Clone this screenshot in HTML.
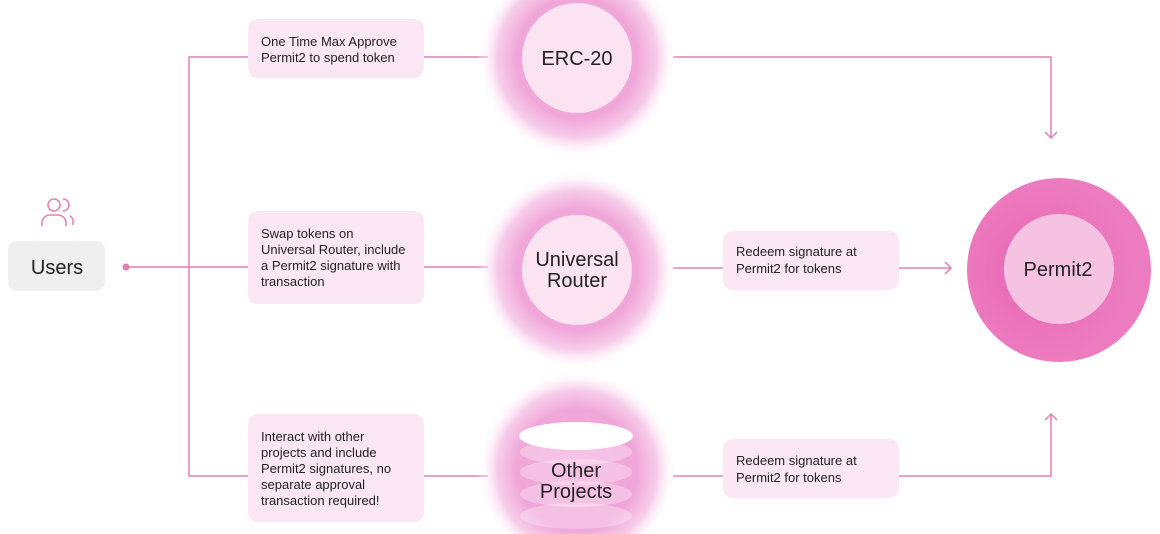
<!DOCTYPE html>
<html><head><meta charset="utf-8"><style>
html,body{margin:0;padding:0;background:#fff;width:1160px;height:534px;overflow:hidden;}
svg{display:block;font-family:"Liberation Sans",sans-serif;}
</style></head><body>
<svg width="1160" height="534" viewBox="0 0 1160 534" xmlns="http://www.w3.org/2000/svg">
<defs>
<radialGradient id="g1" gradientUnits="userSpaceOnUse" cx="577" cy="58" r="100">
<stop offset="0" stop-color="#f2a6d8"/>
<stop offset="0.6" stop-color="#f0a6d8"/>
<stop offset="0.8" stop-color="#f7cdea"/>
<stop offset="1" stop-color="#ffffff" stop-opacity="0"/>
</radialGradient>
<radialGradient id="g2" gradientUnits="userSpaceOnUse" cx="577" cy="270" r="100">
<stop offset="0" stop-color="#f2a6d8"/>
<stop offset="0.6" stop-color="#f0a6d8"/>
<stop offset="0.8" stop-color="#f7cdea"/>
<stop offset="1" stop-color="#ffffff" stop-opacity="0"/>
</radialGradient>
<radialGradient id="g3" gradientUnits="userSpaceOnUse" cx="577" cy="470" r="100">
<stop offset="0" stop-color="#f2a6d8"/>
<stop offset="0.6" stop-color="#f0a6d8"/>
<stop offset="0.8" stop-color="#f7cdea"/>
<stop offset="1" stop-color="#ffffff" stop-opacity="0"/>
</radialGradient>
<radialGradient id="p2" cx="0.4" cy="0.5">
<stop offset="0" stop-color="#e965b4"/>
<stop offset="1" stop-color="#ec7cbf"/>
</radialGradient>
</defs>
<g stroke="#e47fb6" stroke-width="1.5" fill="none">
<line x1="126" y1="267" x2="488" y2="267"/>
<polyline points="248,57 189,57 189,476 248,476"/>
<line x1="424" y1="57" x2="488" y2="57"/>
<line x1="424" y1="476" x2="488" y2="476"/>
<polyline points="673,57 1051,57 1051,138"/>
<polyline points="1045,132 1051,138 1057,132"/>
<line x1="673" y1="268" x2="723" y2="268"/>
<line x1="899" y1="268" x2="951" y2="268"/>
<polyline points="945,262 951,268 945,274"/>
<line x1="673" y1="476" x2="723" y2="476"/>
<polyline points="899,476 1051,476 1051,414"/>
<polyline points="1045,420 1051,414 1057,420"/>
</g>
<circle cx="126" cy="267" r="3.5" fill="#e47fb6"/>
<g stroke="#e47fb6" stroke-width="1.5" fill="none">
<circle cx="54" cy="205" r="6"/>
<path d="M42 226 v-3 a8 8 0 0 1 8 -8 h8 a8 8 0 0 1 8 8 v3"/>
<path d="M63 199 a6 6 0 0 1 0 12"/>
<path d="M70 216 a6 6 0 0 1 3 6 v3"/>
</g>
<rect x="8" y="241" width="97" height="50" rx="9" fill="#efefef"/>
<text x="57" y="274" font-size="20" text-anchor="middle" fill="#222">Users</text>
<g fill="#fbe7f3">
<rect x="248" y="19" width="176" height="59" rx="10"/>
<rect x="248" y="211" width="176" height="93" rx="10"/>
<rect x="248" y="414" width="176" height="108" rx="10"/>
<rect x="723" y="231" width="176" height="59" rx="10"/>
<rect x="723" y="439" width="176" height="59" rx="10"/>
</g>
<g font-size="13" fill="#222">
<text x="261" y="46">One Time Max Approve</text>
<text x="261" y="62">Permit2 to spend token</text>
<text x="261" y="238">Swap tokens on</text>
<text x="261" y="254">Universal Router, include</text>
<text x="261" y="270">a Permit2 signature with</text>
<text x="261" y="286">transaction</text>
<text x="261" y="441">Interact with other</text>
<text x="261" y="457">projects and include</text>
<text x="261" y="473">Permit2 signatures, no</text>
<text x="261" y="489">separate approval</text>
<text x="261" y="505">transaction required!</text>
<text x="736" y="256">Redeem signature at</text>
<text x="736" y="273">Permit2 for tokens</text>
<text x="736" y="465">Redeem signature at</text>
<text x="736" y="482">Permit2 for tokens</text>
</g>
<rect x="477" y="0" width="200" height="158" fill="url(#g1)"/>
<circle cx="577" cy="58" r="55" fill="#fbe3f2"/>
<text x="577" y="65" font-size="20" text-anchor="middle" fill="#222">ERC-20</text>
<rect x="477" y="170" width="200" height="200" fill="url(#g2)"/>
<circle cx="577" cy="270" r="55" fill="#fbe3f2"/>
<text x="577" y="266" font-size="20" text-anchor="middle" fill="#222">Universal</text>
<text x="577" y="287" font-size="20" text-anchor="middle" fill="#222">Router</text>
<rect x="477" y="370" width="200" height="164" fill="url(#g3)"/>
<g fill="#ffffff" fill-opacity="0.3">
<ellipse cx="576" cy="516" rx="56" ry="13"/>
<ellipse cx="576" cy="494" rx="56" ry="13"/>
<ellipse cx="576" cy="472" rx="56" ry="13"/>
<ellipse cx="576" cy="452" rx="56" ry="13"/>
</g>
<ellipse cx="576" cy="436" rx="57" ry="14" fill="#ffffff"/>
<text x="576" y="477" font-size="20" text-anchor="middle" fill="#222">Other</text>
<text x="576" y="498" font-size="20" text-anchor="middle" fill="#222">Projects</text>
<circle cx="1059" cy="270" r="92" fill="url(#p2)"/>
<circle cx="1059" cy="269" r="55" fill="#f5c3e1"/>
<text x="1058" y="276" font-size="20" text-anchor="middle" fill="#222">Permit2</text>
</svg>
</body></html>
